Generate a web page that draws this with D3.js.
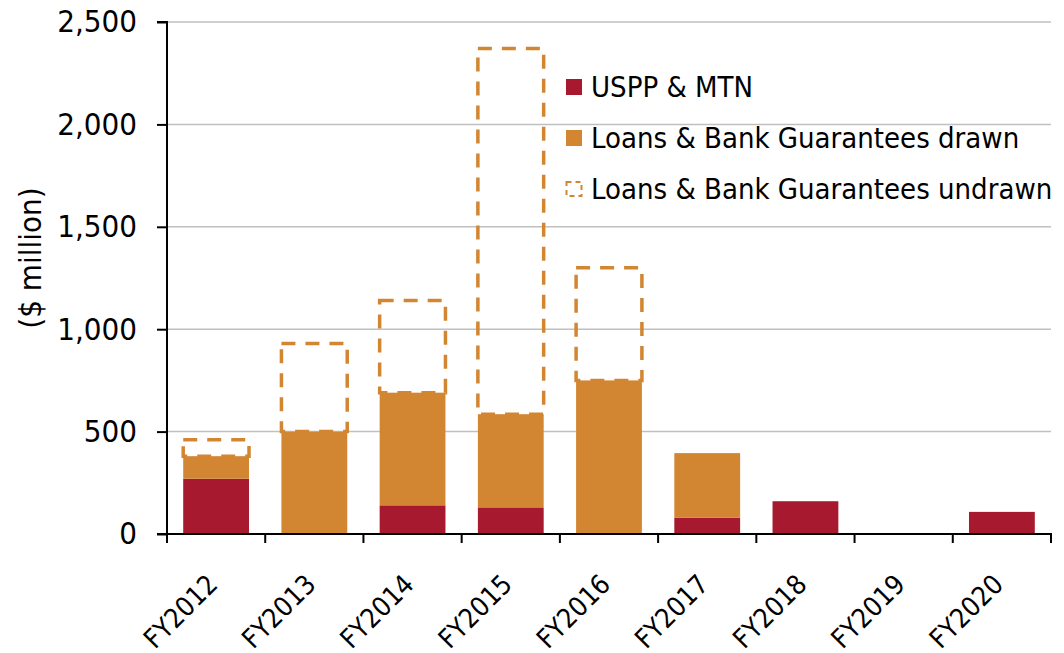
<!DOCTYPE html>
<html>
<head>
<meta charset="utf-8">
<script src="https://cdn.jsdelivr.net/npm/d3@7"></script>
<style>
  html, body { margin: 0; padding: 0; background: #fff; }
  svg { display: block; font-family: "DejaVu Sans Condensed", "DejaVu Sans", sans-serif; font-stretch: condensed; }
</style>
</head>
<body>
<svg id="chart" width="1064" height="653"></svg>
<script>
// ---- data ----
const categories = ["FY2012","FY2013","FY2014","FY2015","FY2016","FY2017","FY2018","FY2019","FY2020"];
const usppMtn    = [270, 0, 140, 130, 0, 80, 160, 0, 108];
const loansDrawn = [110, 500, 550, 455, 750, 315, 0, 0, 0];
const loansUndrawn = [80, 430, 450, 1785, 550, 0, 0, 0, 0];
const yTicks = [0, 500, 1000, 1500, 2000, 2500];
const seriesNames = ["USPP & MTN", "Loans & Bank Guarantees drawn", "Loans & Bank Guarantees undrawn"];
const colors = { red: "#A6192E", orange: "#D38632", grid: "#C0C0C0" };

// ---- layout ----
const svg = d3.select("#chart");
const plot = { left: 167, right: 1051, top: 22, bottom: 534 };

const x = d3.scaleBand().domain(categories).range([plot.left, plot.right]).paddingInner(0.33).paddingOuter(0.165);
const xCat = d3.scaleBand().domain(categories).range([plot.left, plot.right]);
const y = d3.scaleLinear().domain([0, 2500]).range([plot.bottom, plot.top]);

// gridlines
svg.append("g").selectAll("line").data(yTicks.filter(d => d > 0)).join("line")
  .attr("x1", plot.left).attr("x2", plot.right)
  .attr("y1", d => y(d)).attr("y2", d => y(d))
  .attr("stroke", colors.grid).attr("stroke-width", 1.5);

// bars
const rows = categories.map((c, i) => ({
  c, u: usppMtn[i], d: loansDrawn[i], w: loansUndrawn[i]
}));
const g = svg.append("g");
g.selectAll("rect.red").data(rows.filter(r => r.u > 0)).join("rect")
  .attr("x", r => x(r.c)).attr("width", x.bandwidth())
  .attr("y", r => y(r.u)).attr("height", r => y(0) - y(r.u))
  .attr("fill", colors.red);
g.selectAll("rect.orange").data(rows.filter(r => r.d > 0)).join("rect")
  .attr("x", r => x(r.c)).attr("width", x.bandwidth())
  .attr("y", r => y(r.u + r.d)).attr("height", r => y(r.u) - y(r.u + r.d))
  .attr("fill", colors.orange);
g.selectAll("rect.undrawn").data(rows.filter(r => r.w > 0)).join("rect")
  .attr("x", r => x(r.c)).attr("width", x.bandwidth())
  .attr("y", r => y(r.u + r.d + r.w)).attr("height", r => y(r.u + r.d) - y(r.u + r.d + r.w))
  .attr("fill", "none").attr("stroke", colors.orange).attr("stroke-width", 3.5)
  .attr("stroke-dasharray", "14,10");

// y axis
const yAxis = d3.axisLeft(y).tickValues(yTicks).tickSize(10).tickPadding(20)
  .tickFormat(d3.format(","));
const ya = svg.append("g").attr("transform", `translate(${plot.left},0)`).call(yAxis);
ya.attr("font-family", null);
ya.select(".domain").attr("stroke", "#000").attr("stroke-width", 2).attr("d", `M-10,${plot.top}H0V${plot.bottom}H-10`);
ya.selectAll(".tick line").attr("stroke", "#000").attr("stroke-width", 2);
ya.selectAll(".tick text").attr("font-size", 31).attr("fill", "#000");

// x axis
const xa = svg.append("g").attr("transform", `translate(0,${plot.bottom})`);
xa.append("line").attr("x1", plot.left - 10).attr("x2", plot.right + 1)
  .attr("y1", 0).attr("y2", 0).attr("stroke", "#000").attr("stroke-width", 2);
const boundaries = categories.map(c => xCat(c)).concat([plot.right]);
xa.selectAll("line.tk").data(boundaries).join("line")
  .attr("x1", d => d).attr("x2", d => d).attr("y1", 0).attr("y2", 9)
  .attr("stroke", "#000").attr("stroke-width", 2);
xa.selectAll("text").data(categories).join("text")
  .attr("transform", c => `translate(${xCat(c) + xCat.bandwidth() / 2 + 3},${52}) rotate(-45)`)
  .attr("text-anchor", "end")
  .attr("font-size", 27)
  .attr("fill", "#000")
  .text(c => c);

// y title
svg.append("text")
  .attr("transform", `translate(41,258) rotate(-90)`)
  .attr("text-anchor", "middle")
  .attr("font-size", 31)
  .attr("fill", "#000")
  .text("($ million)");

// legend
const legend = svg.append("g");
const legY = [87, 138, 189];
legend.append("rect").attr("x", 566).attr("y", legY[0] - 8).attr("width", 16).attr("height", 16).attr("fill", colors.red);
legend.append("rect").attr("x", 566).attr("y", legY[1] - 8).attr("width", 16).attr("height", 16).attr("fill", colors.orange);
legend.append("rect").attr("x", 566.5).attr("y", legY[2] - 7).attr("width", 15).attr("height", 14)
  .attr("fill", "none").attr("stroke", colors.orange).attr("stroke-width", 2).attr("stroke-dasharray", "5,4");
legend.selectAll("text").data(seriesNames).join("text")
  .attr("x", 591).attr("y", (d, i) => legY[i] + 10)
  .attr("font-size", 29)
  .attr("fill", "#000")
  .text(d => d);
</script>
</body>
</html>
